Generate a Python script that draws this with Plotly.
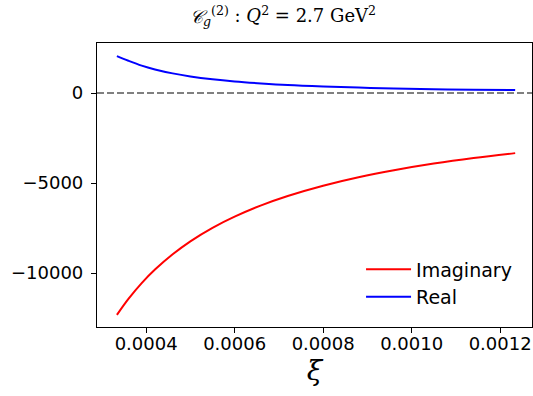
import plotly.graph_objects as go

xi = [0.000334, 0.00036, 0.00039, 0.00042, 0.00046, 0.00050, 0.00055, 0.00060,
      0.00066, 0.00072, 0.00080, 0.00088, 0.00096, 0.00105, 0.00114, 0.001234]
imag = [-12330, -11440, -10560, -9810, -8960, -8240, -7490, -6870,
        -6240, -5720, -5150, -4680, -4290, -3920, -3610, -3340]
real = [2050, 1790, 1520, 1310, 1090, 920, 760, 640,
        530, 440, 360, 300, 250, 210, 180, 160]
yticks = [0, -5000, -10000]
ytick_text = ["0", "\u22125000", "\u221210000"]
xticks = [0.0004, 0.0006, 0.0008, 0.0010, 0.0012]
xtick_text = ["0.0004", "0.0006", "0.0008", "0.0010", "0.0012"]

fig = go.Figure()
fig.add_trace(go.Scatter(x=xi, y=imag, mode="lines", name="Imaginary",
                         line=dict(color="red", width=2, shape="spline")))
fig.add_trace(go.Scatter(x=xi, y=real, mode="lines", name="Real",
                         line=dict(color="blue", width=2, shape="spline")))
fig.add_hline(y=0, line=dict(color="gray", dash="7px,3px", width=1.8))

fig.update_layout(
    width=533, height=396,
    margin=dict(l=97, r=1, t=43, b=69),
    paper_bgcolor="white", plot_bgcolor="white",
    font=dict(family="DejaVu Sans", size=18, color="black"),
    title=dict(text="<i>\U0001D49E</i><sub><i>g</i></sub><sup>(2)</sup> : <i>Q</i><sup>2</sup> = 2.7 GeV<sup>2</sup>",
               font=dict(family="DejaVu Serif", size=18), x=283 / 533, xanchor="center",
               xref="container", y=0.975, yref="container", yanchor="top"),
    showlegend=True,
    legend=dict(x=0.607, y=0.27, xanchor="left", yanchor="top", itemwidth=45,
                bgcolor="rgba(0,0,0,0)", font=dict(size=19), tracegroupgap=0),
    xaxis=dict(range=[0.000289, 0.001272], tickvals=xticks, ticktext=xtick_text,
               showline=True, linecolor="black", linewidth=1.2, mirror=True,
               ticks="outside", ticklen=5, tickcolor="black", showgrid=False, zeroline=False,
               ticklabelstandoff=-5,
               title=dict(text="<i>\u03be</i>", font=dict(family="DejaVu Serif", size=28), standoff=4)),
    yaxis=dict(range=[-13000, 2778], tickvals=yticks, ticktext=ytick_text,
               showline=True, linecolor="black", linewidth=1.2, mirror=True,
               ticks="outside", ticklen=5, tickcolor="black", showgrid=False, zeroline=False,
               ticklabelstandoff=4),
)
fig.write_html("out.html", config={"displayModeBar": False},
               post_script="document.body.style.margin='0';document.body.style.overflow='hidden';")
